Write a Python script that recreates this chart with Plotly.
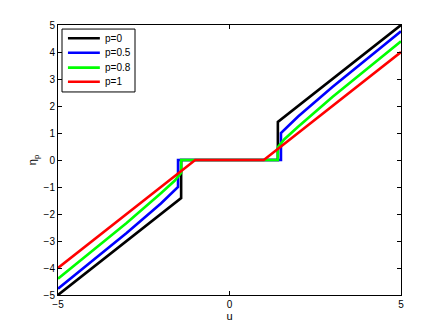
import plotly.graph_objects as go

# values (u, eta_p), thresholds give vertical jumps
u_p0 = [-5, -1.41, -1.41, 1.41, 1.41, 5]
eta_p0 = [-5, -1.41, 0, 0, 1.41, 5]

u_p05 = [-5, -4, -3, -2, -1.5, -1.5, 1.5, 1.5, 2, 3, 4, 5]
eta_p05 = [-4.77, -3.74, -2.70, -1.61, -1.0, 0, 0, 1.0, 1.61, 2.70, 3.74, 4.77]

u_p08 = [-5, -4, -3, -2, -1.6, -1.41, -1.41, 1.41, 1.41, 1.6, 2, 3, 4, 5]
eta_p08 = [-4.40, -3.37, -2.33, -1.23, -0.77, -0.47, 0, 0, 0.47, 0.77, 1.23, 2.33, 3.37, 4.40]

u_p1 = [-5, -1, 1, 5]
eta_p1 = [-4, 0, 0, 4]

series = [
    ("p=0", u_p0, eta_p0, "#000000"),
    ("p=0.5", u_p05, eta_p05, "#0000ff"),
    ("p=0.8", u_p08, eta_p08, "#00ff00"),
    ("p=1", u_p1, eta_p1, "#ff0000"),
]

fig = go.Figure()
for name, u, eta, col in series:
    fig.add_scatter(x=u, y=eta, mode="lines", name=name,
                    line=dict(color=col, width=2.6), showlegend=False)

# MATLAB-style compact legend box (native plotly rows are too tall)
fig.add_shape(type="rect", xref="paper", yref="paper", x0=0.0117, x1=0.2245,
              y0=0.752, y1=0.985, line=dict(color="#000000", width=1),
              fillcolor="white", layer="above")
row_y = [0.951, 0.897, 0.842, 0.790]
for (name, _, _, col), ry in zip(series, row_y):
    fig.add_shape(type="line", xref="paper", yref="paper", x0=0.029, x1=0.122,
                  y0=ry, y1=ry, line=dict(color=col, width=2.6), layer="above")
    fig.add_annotation(xref="paper", yref="paper", x=0.131, y=ry, text=name,
                       showarrow=False, xanchor="left", yanchor="middle",
                       font=dict(size=10, color="#000000"))

axis_style = dict(showgrid=False, zeroline=False, showline=True, mirror="ticks",
                  linecolor="#000000", linewidth=1, ticks="inside", ticklen=4,
                  tickcolor="#000000", tickfont=dict(size=10, color="#000000"),
                  automargin=False)

fig.update_xaxes(range=[-5, 5], tickvals=[-5, 0, 5], ticktext=["\u22125", "0", "5"],
                 title=dict(text="u", font=dict(size=11, color="#000000"), standoff=2),
                 **axis_style)
fig.update_yaxes(range=[-5, 5], tickvals=list(range(-5, 6)),
                 ticktext=[("\u2212" + str(-v)) if v < 0 else str(v) for v in range(-5, 6)],
                 title=dict(text="\u03b7<sub>p</sub>", font=dict(size=11, color="#000000"), standoff=4),
                 **axis_style)

# page body adds an 8px offset, margins account for it
fig.update_layout(
    width=443, height=333,
    margin=dict(l=50, r=50, t=17, b=46),
    paper_bgcolor="white", plot_bgcolor="white",
    font=dict(family="Liberation Sans, Arial, sans-serif", size=10, color="#000000"),
    showlegend=False,
)

fig.write_html("out.html")
